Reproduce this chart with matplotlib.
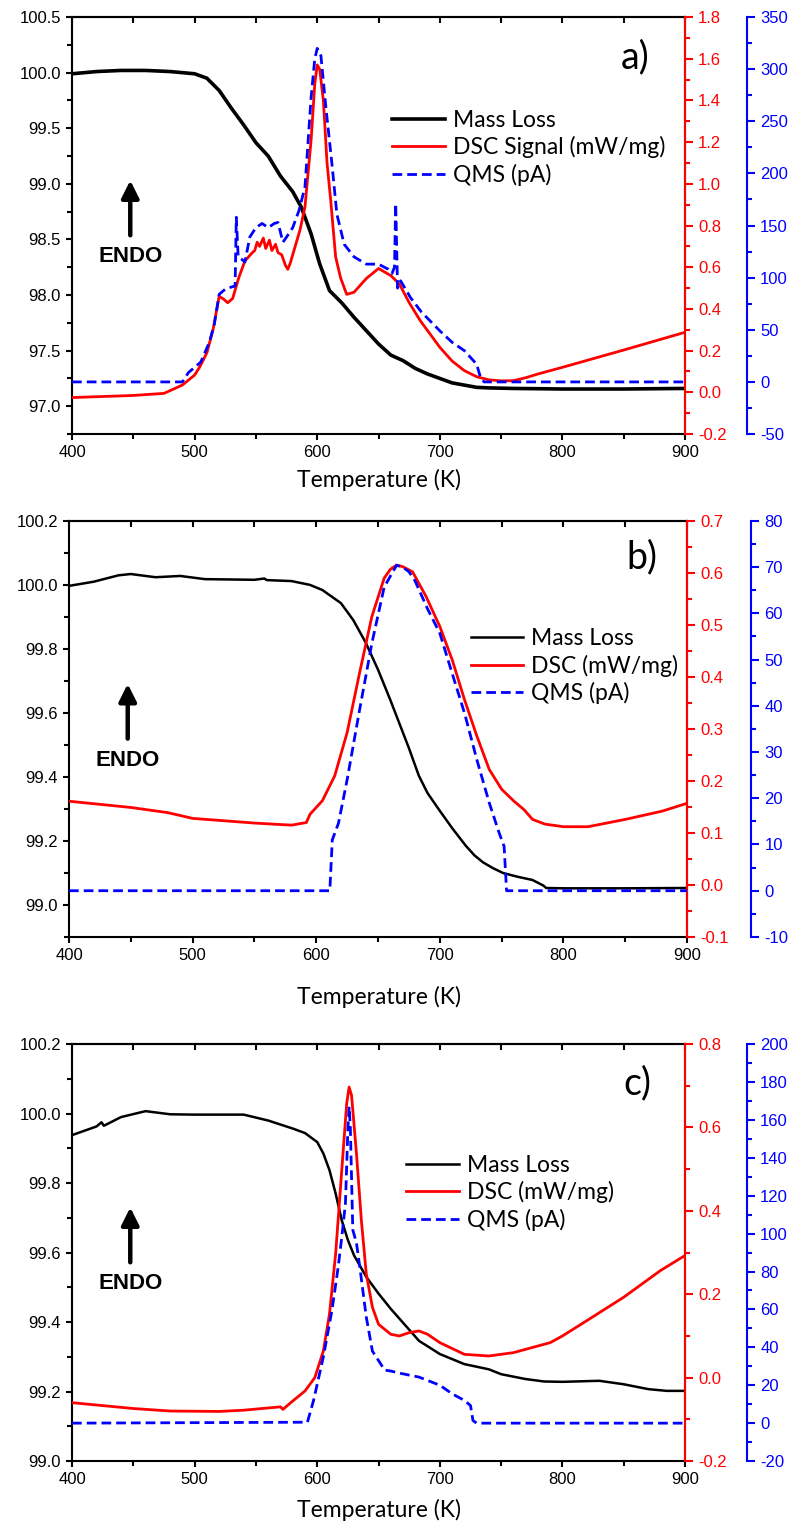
import numpy as np
import matplotlib
matplotlib.use('Agg')
import matplotlib.pyplot as plt
from matplotlib.ticker import MultipleLocator, FormatStrFormatter

plt.rcParams['font.family'] = ['Liberation Sans', 'DejaVu Sans']
plt.rcParams['axes.unicode_minus'] = False

RED = '#ff0000'
BLUE = '#0000ff'

# ---- panel a) data ----
a_mass_T = [400, 420, 440, 460, 480, 500, 510, 520, 530, 540, 550, 560, 570, 575, 580, 587, 595, 602,
            606, 610, 620, 630, 640, 650, 660, 670, 680, 690, 700, 710, 720, 730, 740, 760, 800, 850, 900]
a_mass = [99.99, 100.01, 100.02, 100.02, 100.01, 99.99, 99.95, 99.84, 99.68, 99.53, 99.37, 99.25, 99.07,
          99.0, 98.93, 98.79, 98.55, 98.28, 98.16, 98.04, 97.93, 97.8, 97.68, 97.56, 97.46, 97.41, 97.34,
          97.29, 97.25, 97.21, 97.19, 97.17, 97.165, 97.16, 97.155, 97.155, 97.16]

a_dsc_T = [400, 450, 475, 490, 500, 504, 510, 515, 520, 523, 527, 531, 536, 541, 547, 549, 551, 553, 556,
           558, 561, 563, 566, 568, 571, 574, 576, 578, 582, 586, 590, 595, 598, 600, 602, 605, 608, 611,
           615, 619, 624, 630, 640, 650, 660, 667, 675, 684, 692, 700, 710, 720, 730, 740, 750, 760, 770,
           780, 800, 850, 900]
a_dsc = [-0.025, -0.015, -0.005, 0.035, 0.083, 0.12, 0.19, 0.30, 0.46, 0.45, 0.43, 0.45, 0.55, 0.63, 0.67,
         0.68, 0.72, 0.70, 0.74, 0.69, 0.73, 0.68, 0.71, 0.67, 0.66, 0.61, 0.59, 0.62, 0.70, 0.78, 0.89,
         1.21, 1.48, 1.57, 1.55, 1.40, 1.10, 0.92, 0.65, 0.55, 0.47, 0.48, 0.546, 0.594, 0.56, 0.52, 0.43,
         0.344, 0.28, 0.216, 0.15, 0.104, 0.075, 0.06, 0.055, 0.056, 0.07, 0.088, 0.12, 0.203, 0.288]

a_qms_T = [400, 490, 495, 505, 512, 516, 520, 525, 530, 533, 534, 535.5, 538, 541, 545, 550, 555, 560,
           565, 568, 572, 575, 580, 585, 590, 595, 598, 600, 603, 607, 612, 616, 622, 630, 640, 650, 658,
           661, 663, 664, 665.5, 668, 676, 685, 700, 710, 720, 730, 733, 736, 900]
a_qms = [0, 0, 9, 19, 38, 55, 84, 89, 91, 92, 158, 120, 118, 115, 139, 148, 152, 148, 152, 153, 134, 139,
         148, 164, 187, 273, 310, 320, 313, 264, 209, 161, 132, 120, 113, 113, 108, 104, 110, 171, 90, 97,
         81, 67, 49, 38, 30, 17, 5, 0, 0]

# ---- panel b) data ----
b_mass_T = [400, 420, 440, 450, 470, 490, 510, 550, 558, 560, 580, 595, 605, 620, 630, 640, 650, 660, 667,
            675, 683, 690, 700, 710, 721, 728, 735, 743, 751, 763, 775, 784, 786, 800, 850, 900]
b_mass = [99.997, 100.01, 100.03, 100.034, 100.024, 100.028, 100.018, 100.016, 100.02, 100.015, 100.012,
          100.0, 99.984, 99.943, 99.89, 99.82, 99.735, 99.64, 99.57, 99.49, 99.404, 99.35, 99.294, 99.24,
          99.185, 99.155, 99.133, 99.115, 99.1, 99.088, 99.078, 99.06, 99.053, 99.052, 99.052, 99.053]

b_dsc_T = [400, 450, 480, 500, 550, 580, 592, 595, 605, 615, 625, 635, 645, 655, 660, 665, 670, 678, 689,
           700, 710, 720, 730, 740, 750, 760, 768, 775, 785, 800, 820, 850, 880, 900]
b_dsc = [0.161, 0.149, 0.139, 0.128, 0.119, 0.115, 0.12, 0.136, 0.162, 0.21, 0.293, 0.407, 0.516, 0.59,
         0.607, 0.615, 0.612, 0.602, 0.554, 0.497, 0.433, 0.356, 0.286, 0.222, 0.184, 0.161, 0.145, 0.126,
         0.117, 0.112, 0.112, 0.126, 0.142, 0.157]

b_qms_T = [400, 611, 613, 618, 625, 635, 645, 655, 665, 670, 675, 680, 690, 700, 710, 715, 720, 730, 740,
           748, 752, 754, 900]
b_qms = [0, 0, 11, 14.6, 24, 39, 53.5, 65.7, 70.4, 70, 69, 67, 61, 55.7, 47, 42.7, 38.4, 28.3, 19, 12.5,
         9.6, 0, 0]

# ---- panel c) data ----
c_mass_T = [400, 420, 424, 426, 440, 460, 480, 500, 540, 560, 580, 590, 600, 605, 610, 615, 620, 625, 630,
            640, 650, 660, 667, 683, 700, 720, 740, 750, 770, 785, 800, 830, 850, 870, 885, 900]
c_mass = [99.938, 99.963, 99.975, 99.965, 99.99, 100.007, 99.998, 99.997, 99.997, 99.98, 99.957, 99.944,
          99.918, 99.885, 99.837, 99.77, 99.693, 99.636, 99.592, 99.53, 99.482, 99.438, 99.41, 99.346,
          99.308, 99.279, 99.264, 99.25, 99.236, 99.229, 99.228, 99.231, 99.221, 99.207, 99.202, 99.202]

c_dsc_T = [400, 450, 480, 520, 540, 570, 572, 580, 590, 598, 605, 610, 615, 620, 624, 626, 628, 632, 636,
           640, 645, 650, 660, 667, 675, 683, 690, 700, 720, 740, 760, 780, 790, 800, 820, 850, 880, 900]
c_dsc = [-0.06, -0.074, -0.08, -0.081, -0.078, -0.07, -0.076, -0.056, -0.032, 0.0, 0.064, 0.153, 0.297,
         0.497, 0.657, 0.697, 0.677, 0.537, 0.377, 0.249, 0.169, 0.128, 0.104, 0.1, 0.108, 0.112, 0.104,
         0.084, 0.056, 0.052, 0.06, 0.076, 0.084, 0.1, 0.137, 0.193, 0.257, 0.293]

c_qms_T = [400, 592, 597, 605, 612, 617, 620, 623, 625, 626, 627, 629, 632, 635, 640, 645, 650, 655, 660,
           667, 683, 700, 710, 720, 725, 727, 730, 900]
c_qms = [0, 0.5, 12, 35, 59.5, 82, 98, 116, 155, 167, 156, 102, 95, 81, 56, 38, 33, 28, 27.5, 26.4, 24.3,
         20, 15.5, 12, 9.3, 1.4, 0, 0]


def make_panel(rect, left_lim, left_step, red_lim, red_step, blue_lim, blue_step, blue_pos, left_fmt='%.1f'):
    ax = fig.add_axes(rect)
    ax.set_xlim(400, 900)
    ax.set_ylim(*left_lim)
    ax.xaxis.set_major_locator(MultipleLocator(100))
    ax.xaxis.set_minor_locator(MultipleLocator(50))
    ax.yaxis.set_major_locator(MultipleLocator(left_step))
    ax.yaxis.set_minor_locator(MultipleLocator(left_step / 2))
    ax.yaxis.set_major_formatter(FormatStrFormatter(left_fmt))
    ax.tick_params(which='both', direction='out', labelsize=12, width=1.5)
    ax.tick_params(which='major', length=4.5)
    ax.tick_params(which='minor', length=3.5)
    for s in ax.spines.values():
        s.set_linewidth(1.5)
    # top axis: ticks only, pointing inward
    top = ax.secondary_xaxis('top')
    top.xaxis.set_major_locator(MultipleLocator(50))
    top.tick_params(direction='in', length=4, width=1.5, labeltop=False)
    top.spines['top'].set_linewidth(1.5)

    ax2 = ax.twinx()
    ax2.set_ylim(*red_lim)
    ax2.yaxis.set_major_locator(MultipleLocator(red_step))
    ax2.yaxis.set_minor_locator(MultipleLocator(red_step / 2))
    ax2.yaxis.set_major_formatter(FormatStrFormatter('%.1f'))
    ax2.spines['right'].set_color(RED)
    ax2.spines['right'].set_linewidth(1.5)
    for k in ['left', 'top', 'bottom']:
        ax2.spines[k].set_visible(False)
    ax2.tick_params(which='both', colors=RED, labelsize=12, width=1.5)
    ax2.tick_params(which='major', length=6)
    ax2.tick_params(which='minor', length=3.5)

    ax3 = ax.twinx()
    ax3.set_ylim(*blue_lim)
    ax3.yaxis.set_major_locator(MultipleLocator(blue_step))
    ax3.yaxis.set_minor_locator(MultipleLocator(blue_step / 2))
    ax3.spines['right'].set_position(('axes', blue_pos))
    ax3.spines['right'].set_color(BLUE)
    ax3.spines['right'].set_linewidth(1.5)
    for k in ['left', 'top', 'bottom']:
        ax3.spines[k].set_visible(False)
    ax3.tick_params(which='both', colors=BLUE, labelsize=12, width=1.5)
    ax3.tick_params(which='major', length=6)
    ax3.tick_params(which='minor', length=3.5)
    return ax, ax2, ax3


def decorate(ax, handles, labels, leg_xy, letter, letter_xy, xlabel_y):
    ax.legend(handles, labels, loc='center left', bbox_to_anchor=leg_xy, frameon=False,
              prop={'family': 'Lato', 'size': 16.5}, handlelength=2.3, handletextpad=0.35,
              labelspacing=0.22, borderpad=0, borderaxespad=0)
    ax.text(letter_xy[0], letter_xy[1], letter, transform=ax.transAxes, fontsize=27,
            family='Lato', ha='center', va='center')
    # endothermic direction marker
    ax.annotate('', xy=(0.095, 0.615), xytext=(0.095, 0.47), xycoords='axes fraction',
                arrowprops=dict(arrowstyle='-|>', color='black', lw=3.2, mutation_scale=26))
    ax.text(0.095, 0.425, 'ENDO', transform=ax.transAxes, fontsize=16, fontweight='bold',
            ha='center', va='center')
    fig.text(379 / 795, xlabel_y, 'Temperature (K)', ha='center', va='center', fontsize=16.5, family='Lato')


fig = plt.figure(figsize=(7.95, 15.24), dpi=100)

# a)
ax, ax2, ax3 = make_panel([0.0906, 0.7152, 0.7711, 0.2736], (96.75, 100.5), 0.5, (-0.2, 1.8), 0.2,
                          (-50, 350), 50, 1.101)
l1, = ax.plot(a_mass_T, a_mass, color='black', lw=2.6)
l2, = ax2.plot(a_dsc_T, a_dsc, color=RED, lw=2.0)
l3, = ax3.plot(a_qms_T, a_qms, color=BLUE, lw=2.0, ls=(0, (3.5, 1.8)))
decorate(ax, [l1, l2, l3], ['Mass Loss', 'DSC Signal (mW/mg)', 'QMS (pA)'], (0.522, 0.686),
         'a)', (0.918, 0.904), 1 - 480 / 1524)

# b)
ax, ax2, ax3 = make_panel([0.0868, 0.3852, 0.7774, 0.2730], (98.9, 100.2), 0.2, (-0.1, 0.7), 0.1,
                          (-10, 80), 10, 1.104)
l1, = ax.plot(b_mass_T, b_mass, color='black', lw=1.8)
l2, = ax2.plot(b_dsc_T, b_dsc, color=RED, lw=2.0)
l3, = ax3.plot(b_qms_T, b_qms, color=BLUE, lw=2.0, ls=(0, (3.5, 1.8)))
decorate(ax, [l1, l2, l3], ['Mass Loss', 'DSC (mW/mg)', 'QMS (pA)'], (0.650, 0.651),
         'b)', (0.927, 0.913), 1 - 997 / 1524)

# c)
ax, ax2, ax3 = make_panel([0.0906, 0.0413, 0.7711, 0.2736], (99.0, 100.2), 0.2, (-0.2, 0.8), 0.2,
                          (-20, 200), 20, 1.101)
l1, = ax.plot(c_mass_T, c_mass, color='black', lw=1.8)
l2, = ax2.plot(c_dsc_T, c_dsc, color=RED, lw=2.0)
l3, = ax3.plot(c_qms_T, c_qms, color=BLUE, lw=2.0, ls=(0, (3.5, 1.8)))
decorate(ax, [l1, l2, l3], ['Mass Loss', 'DSC (mW/mg)', 'QMS (pA)'], (0.545, 0.643),
         'c)', (0.923, 0.906), 1 - 1510 / 1524)

fig.savefig('out.png', dpi=100)
